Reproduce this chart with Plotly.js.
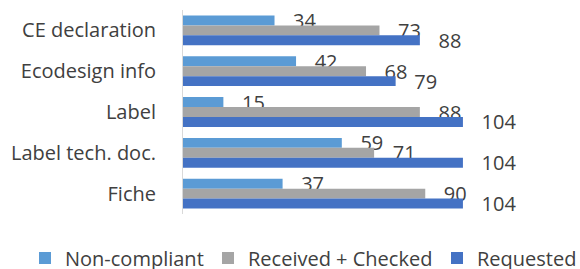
<!DOCTYPE html>
<html>
<head>
<meta charset="utf-8">
<script src="https://cdn.plot.ly/plotly-3.0.1.min.js"></script>
<style>html,body{margin:0;padding:0;background:#fff;}#chart{width:580px;height:269px;}</style>
</head>
<body>
<div id="chart"></div>
<script>
const categories = ["CE declaration", "Ecodesign info", "Label", "Label tech. doc.", "Fiche"];
const nonCompliant = [34, 42, 15, 59, 37];
const receivedChecked = [73, 68, 88, 71, 90];
const requested = [88, 79, 104, 104, 104];
const seriesNames = ["Non-compliant", "Received + Checked", "Requested"];
const seriesColors = ["#5B9BD5", "#A5A5A5", "#4472C4"];

const FONT = "Open Sans, sans-serif";
const TXT = "#404040";
const seriesData = [nonCompliant, receivedChecked, requested];
const legendIds = ["legend", "legend2", "legend3"];
const legendX = [25, 208, 437];

const traces = seriesData.map((vals, i) => ({
  type: "bar",
  orientation: "h",
  name: seriesNames[i],
  legend: legendIds[i],
  y: categories,
  x: vals,
  marker: {color: seriesColors[i]},
  text: vals.map(v => "   " + v),
  textposition: "outside",
  constraintext: "none",
  cliponaxis: false,
  textfont: {family: FONT, size: 20, color: TXT},
  hoverinfo: "skip"
}));

const layout = {
  width: 580,
  height: 269,
  margin: {l: 183, r: 74, t: 10, b: 55},
  paper_bgcolor: "#fff",
  plot_bgcolor: "#fff",
  barmode: "group",
  bargap: 0.27,
  bargroupgap: 0,
  font: {family: FONT, size: 20, color: TXT},
  xaxis: {
    range: [0, 120],
    showgrid: false,
    zeroline: false,
    showline: false,
    showticklabels: false,
    ticks: ""
  },
  yaxis: {
    type: "category",
    autorange: "reversed",
    showgrid: false,
    zeroline: false,
    showline: true,
    linecolor: "#D9D9D9",
    linewidth: 1,
    ticks: "",
    ticklabelstandoff: 22,
    tickfont: {family: FONT, size: 20, color: TXT}
  },
  showlegend: true
};

legendIds.forEach((id, i) => {
  layout[id] = {
    orientation: "h",
    xref: "container",
    yref: "container",
    x: legendX[i] / 580,
    xanchor: "left",
    y: 1 - 258 / 269,
    yanchor: "middle",
    bgcolor: "rgba(0,0,0,0)",
    font: {family: FONT, size: 20, color: TXT},
    itemclick: false
  };
});

Plotly.newPlot("chart", traces, layout, {displayModeBar: false, staticPlot: true});
</script>
</body>
</html>
